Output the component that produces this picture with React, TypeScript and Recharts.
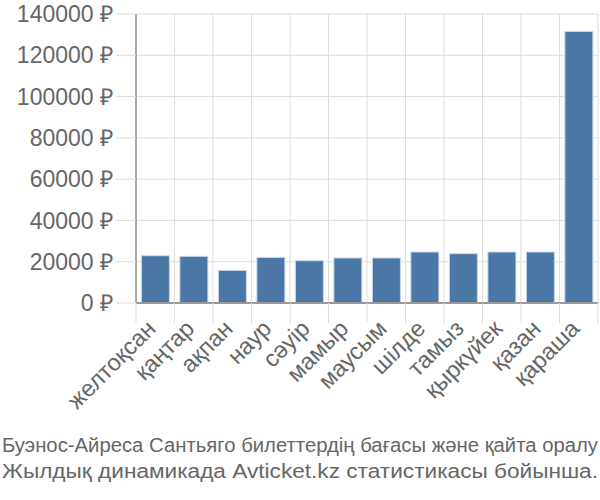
import { Bar, BarChart, CartesianGrid, XAxis, YAxis } from "recharts";

const months = [
  "желтоқсан",
  "қаңтар",
  "ақпан",
  "наур",
  "сәуір",
  "мамыр",
  "маусым",
  "шілде",
  "тамыз",
  "қыркүйек",
  "қазан",
  "қараша",
];

const prices = [
  22900, 22600, 15800, 22100, 20500, 21800, 21800, 24700, 23900, 24700, 24700,
  131500,
];

const yTicks = [0, 20000, 40000, 60000, 80000, 100000, 120000, 140000];

const captionLines = [
  "Буэнос-Айреса Сантьяго билеттердің бағасы және қайта оралу",
  "Жылдық динамикада Avticket.kz статистикасы бойынша.",
];

const data = months.map((m, i) => ({ name: m, price: prices[i] }));

const W = 600;
const H = 430;
const LEFT = 136;
const RIGHT = 2;
const BAND = (W - LEFT - RIGHT) / months.length;
const FONT = "'Liberation Sans', Arial, sans-serif";

const MonthTick = (props: any) => {
  const { x, y, payload, index } = props;
  return (
    <g>
      <line x1={x - BAND / 2} y1={y - 8} x2={x - BAND / 2} y2={y + 12} stroke="#ddd" />
      {index === months.length - 1 && (
        <line x1={x + BAND / 2} y1={y - 8} x2={x + BAND / 2} y2={y + 12} stroke="#ddd" />
      )}
      <text
        x={x + 2}
        y={y + 19}
        textAnchor="end"
        fill="#666"
        fontSize={23.5}
        fontFamily={FONT}
        transform={`rotate(-45 ${x + 2} ${y + 19})`}
      >
        {payload.value}
      </text>
    </g>
  );
};

const App = () => {
  return (
    <div style={{ position: "absolute", left: 0, top: 0, width: W, height: 500, background: "#fff" }}>
      <BarChart
        width={W}
        height={H}
        data={data}
        margin={{ top: 14, right: RIGHT, left: 0, bottom: 0 }}
        barCategoryGap="14%"
      >
        <CartesianGrid
          stroke="#ddd"
          strokeWidth={1}
          verticalCoordinatesGenerator={({ offset }: any) =>
            Array.from({ length: months.length + 1 }, (_, i) => offset.left + i * (offset.width / months.length))
          }
        />
        <XAxis
          dataKey="name"
          interval={0}
          height={H - 303}
          axisLine={{ stroke: "#999", strokeWidth: 2 }}
          tickLine={false}
          tick={<MonthTick />}
        />
        <YAxis
          width={LEFT}
          domain={[0, 140000]}
          ticks={yTicks}
          interval={0}
          axisLine={{ stroke: "#aaa", strokeWidth: 2 }}
          tickLine={{ stroke: "#ddd" }}
          tickSize={20}
          tickMargin={3}
          tickFormatter={(v: number) => `${v} ₽`}
          tick={{ fill: "#666", fontSize: 23, fontFamily: FONT }}
        />
        <Bar dataKey="price" fill="#4b77a7" stroke="#c9d6e6" strokeWidth={1} isAnimationActive={false} />
      </BarChart>
      <svg width={W} height={70} style={{ position: "absolute", left: 0, top: 430 }}>
        {captionLines.map((l, i) => (
          <text
            key={l}
            x={2}
            y={22 + i * 26}
            fontFamily={FONT}
            fontSize={20}
            fill="#666"
            textLength={596}
            lengthAdjust="spacingAndGlyphs"
          >
            {l}
          </text>
        ))}
      </svg>
    </div>
  );
};

export default App;
